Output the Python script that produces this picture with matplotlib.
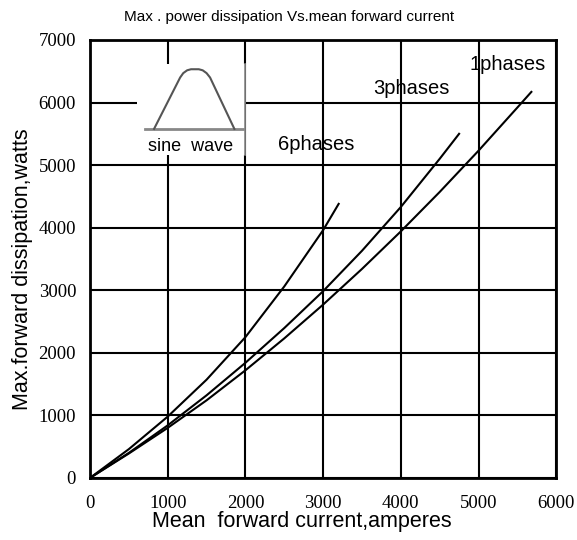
import matplotlib.pyplot as plt
from matplotlib.patches import Rectangle

# values
x_6ph = [0, 500, 1000, 1500, 2000, 2500, 3000, 3200]
y_6ph = [0, 460, 980, 1570, 2250, 3060, 3960, 4380]

x_3ph = [0, 500, 1000, 1500, 2000, 2500, 3000, 3500, 4000, 4500, 4750]
y_3ph = [0, 400, 840, 1320, 1840, 2395, 2985, 3630, 4330, 5100, 5500]

x_1ph = [0, 500, 1000, 1500, 2000, 2500, 3000, 3500, 4000, 4500, 5000, 5500, 5680]
y_1ph = [0, 390, 800, 1240, 1720, 2230, 2770, 3340, 3940, 4570, 5230, 5920, 6170]

labels = ['6phases', '3phases', '1phases']
label_x = [2420, 3640, 4890]
label_y = [5330, 6220, 6600]

xticks = [0, 1000, 2000, 3000, 4000, 5000, 6000]
yticks = [0, 1000, 2000, 3000, 4000, 5000, 6000, 7000]

# little sine wave sketch in the top left corner
inset_box = [610, 5160, 2000, 6620]   # x0, y0, x1, y1
wave_x = [824, 1160, 1200, 1250, 1300, 1400, 1450, 1500, 1545, 1858]
wave_y = [5578, 6400, 6470, 6515, 6532, 6532, 6515, 6470, 6400, 5578]
base_x = [708, 1974]
base_y = [5578, 5578]

serif = ['Liberation Serif', 'DejaVu Serif']
sans = ['Liberation Sans', 'DejaVu Sans']

fig = plt.figure(figsize=(5.77, 5.4), dpi=100)
ax = fig.add_axes([0.156, 0.115, 0.808, 0.811])

ax.plot(x_6ph, y_6ph, color='black', lw=1.5, zorder=3)
ax.plot(x_3ph, y_3ph, color='black', lw=1.5, zorder=3)
ax.plot(x_1ph, y_1ph, color='black', lw=1.5, zorder=3)

for t, tx, ty in zip(labels, label_x, label_y):
    ax.text(tx, ty, t, fontsize=14.5, family=sans, va='center', ha='left', zorder=5)

# inset
x0, y0, x1, y1 = inset_box
ax.add_patch(Rectangle((x0, y0), x1 - x0, y1 - y0, facecolor='white',
                       edgecolor='none', zorder=2))
ax.plot([x1, x1], [y0, y1], color='#888888', lw=1.2, zorder=2.5)
ax.plot(base_x, base_y, color='#888888', lw=2, zorder=4)
ax.plot(wave_x, wave_y, color='#555555', lw=1.5, zorder=4)
ax.text(1294, 5300, 'sine  wave', fontsize=13, family=sans, ha='center',
        va='center', zorder=5)

ax.set_xlim(0, 6000)
ax.set_ylim(0, 7000)
ax.set_xticks(xticks)
ax.set_yticks(yticks)
ax.tick_params(length=0, labelsize=13.5)
ax.tick_params(axis='x', pad=12)
ax.tick_params(axis='y', pad=10)
for lab in ax.get_xticklabels() + ax.get_yticklabels():
    lab.set_family(serif)
ax.grid(True, color='black', lw=1.5, zorder=1)
ax.set_axisbelow(True)
for s in ax.spines.values():
    s.set_linewidth(2)

ax.set_xlabel('Mean  forward current,amperes', fontsize=15.5, family=sans)
ax.xaxis.set_label_coords(0.455, -0.075)
ax.set_ylabel('Max.forward dissipation,watts', fontsize=15.5, family=sans)
ax.yaxis.set_label_coords(-0.122, 0.477)
fig.text(289 / 577, 1 - 17 / 540, 'Max . power dissipation Vs.mean forward current',
         fontsize=11, family=sans, ha='center', va='center')

plt.savefig('out.png')
